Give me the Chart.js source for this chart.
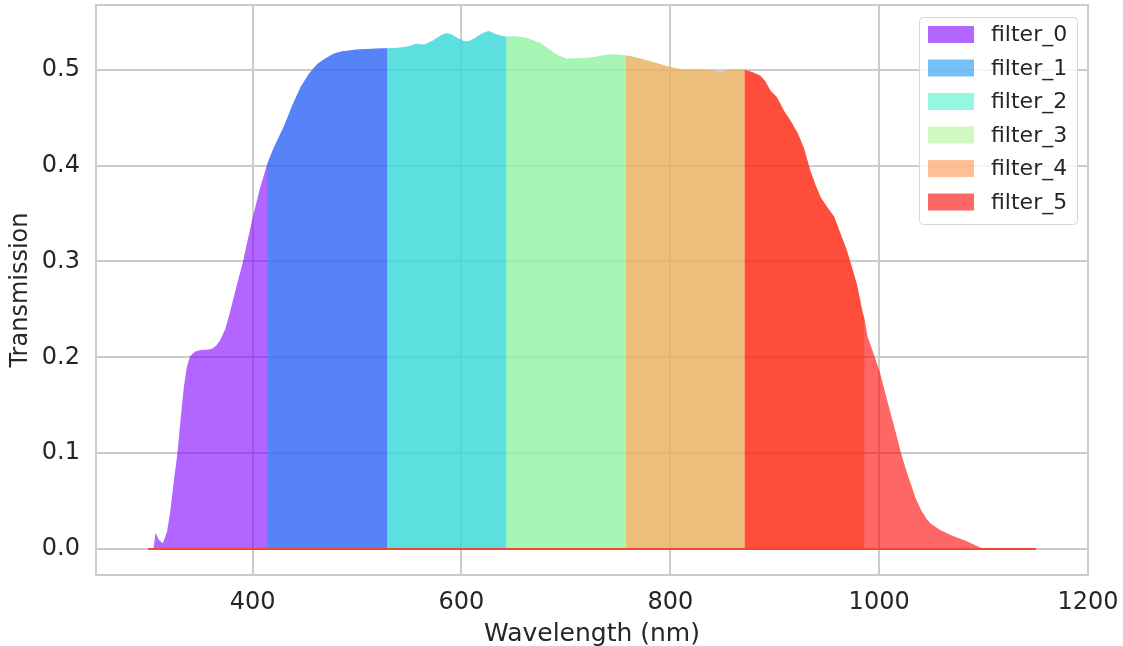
<!DOCTYPE html>
<html>
<head>
<meta charset="utf-8">
<script src="https://cdn.jsdelivr.net/npm/chart.js@4.4.1/dist/chart.umd.min.js"></script>
<style>
  body { margin: 0; background: #fff; }
  #wrap { width: 1123px; height: 646px; }
</style>
</head>
<body>
<div id="wrap"><canvas id="filterChart" width="1123" height="646"></canvas></div>
<script>
// transmission curve
const wavelength = [
    300, 305, 307, 310, 314, 318, 321, 325, 328, 331, 334, 337, 340, 345, 350, 356, 361, 365, 369, 374,
    378, 382, 385, 391, 396, 401, 407, 414, 420, 430, 438, 446, 454, 462, 470, 478, 485, 492, 500, 510,
    520, 529, 540, 550, 557, 564, 572, 580, 585, 590, 596, 602, 607, 613, 620, 626, 633, 640, 643, 650,
    657, 663, 670, 676, 684, 692, 701, 712, 723, 731, 739, 748, 757, 767, 778, 790, 800, 808, 816, 826,
    835, 843, 848, 853, 858, 864, 871, 877, 886, 891, 896, 902, 909, 915, 922, 928, 934, 939, 944, 950,
    957, 963, 969, 974, 979, 984, 986, 989, 995, 1001, 1006, 1011, 1016, 1021, 1026, 1030, 1035, 1040, 1045, 1049,
    1058, 1068, 1077, 1084, 1092, 1100, 1150
];
const transmission = [
    0, 0, 0.017, 0.010, 0.006, 0.018, 0.038, 0.075, 0.100, 0.135, 0.168, 0.190, 0.201, 0.206, 0.2075, 0.208, 0.209, 0.212, 0.218, 0.230,
    0.246, 0.263, 0.276, 0.301, 0.326, 0.350, 0.376, 0.402, 0.418, 0.441, 0.463, 0.482, 0.496, 0.506, 0.512, 0.517, 0.519, 0.520, 0.521, 0.5215,
    0.522, 0.5225, 0.523, 0.5245, 0.527, 0.526, 0.530, 0.5357, 0.538, 0.537, 0.533, 0.530, 0.5296, 0.533, 0.538, 0.5405, 0.537, 0.535, 0.5345, 0.535,
    0.534, 0.533, 0.530, 0.5277, 0.521, 0.515, 0.5115, 0.512, 0.5125, 0.514, 0.5156, 0.5158, 0.515, 0.513, 0.5097, 0.506, 0.5027, 0.501, 0.5003, 0.500,
    0.500, 0.499, 0.4982, 0.4995, 0.5003, 0.500, 0.500, 0.498, 0.494, 0.488, 0.478, 0.4715, 0.457, 0.447, 0.434, 0.418, 0.395, 0.380, 0.367, 0.357,
    0.3465, 0.329, 0.312, 0.294, 0.275, 0.248, 0.240, 0.2215, 0.203, 0.1833, 0.162, 0.1417, 0.121, 0.100, 0.082, 0.0688, 0.053, 0.041, 0.032, 0.027,
    0.020, 0.015, 0.011, 0.008, 0.004, 0, 0
];

// filter i covers filterEdges[i] .. filterEdges[i + 2]
const filterEdges = [300, 414, 529, 643, 757, 871, 986, 1100];
const filterNames = ['filter_0', 'filter_1', 'filter_2', 'filter_3', 'filter_4', 'filter_5'];
const filterColors = [
    'rgba(128, 0, 255, 0.6)',
    'rgba(26, 150, 243, 0.6)',
    'rgba(77, 243, 206, 0.6)',
    'rgba(179, 243, 150, 0.6)',
    'rgba(255, 150, 79, 0.6)',
    'rgba(255, 0, 0, 0.6)'
];

const xTicks = [400, 600, 800, 1000, 1200];
const yTicks = [0, 0.1, 0.2, 0.3, 0.4, 0.5];

const FONT = "'DejaVu Sans', sans-serif";
const TEXT_COLOR = '#262626';
const GRID_COLOR = '#cccccc';

function filterPoints(i) {
    const lo = filterEdges[i];
    const hi = filterEdges[i + 2];
    const points = [{ x: lo, y: 0 }];
    wavelength.forEach((wl, j) => {
        if (wl >= lo && wl <= hi) {
            points.push({ x: wl, y: transmission[j] });
        }
    });
    points.push({ x: hi, y: 0 });
    return points;
}

const datasets = filterNames.map((name, i) => ({
    label: name,
    data: filterPoints(i),
    backgroundColor: filterColors[i],
    borderWidth: 0,
    pointRadius: 0,
    fill: 'origin',
    tension: 0,
    order: filterNames.length - i   // later filters drawn on top
}));

// zero line under the whole range
datasets.push({
    label: 'baseline',
    data: [{ x: wavelength[0], y: 0 }, { x: wavelength[wavelength.length - 1], y: 0 }],
    borderColor: 'rgb(238, 72, 46)',
    borderWidth: 2,
    pointRadius: 0,
    fill: false,
    order: -1
});

const framePlugin = {
    id: 'frameAndLegend',
    afterDraw(chart) {
        const ctx = chart.ctx;
        const area = chart.chartArea;

        ctx.save();
        ctx.strokeStyle = GRID_COLOR;
        ctx.lineWidth = 2;
        ctx.strokeRect(area.left, area.top, area.right - area.left, area.bottom - area.top);

        // legend box
        const boxW = 158;
        const boxH = 207;
        const boxX = area.right - 11 - boxW;
        const boxY = area.top + 12;
        ctx.beginPath();
        ctx.roundRect(boxX + 0.5, boxY + 0.5, boxW, boxH, 4);
        ctx.fillStyle = 'rgba(255, 255, 255, 0.8)';
        ctx.fill();
        ctx.strokeStyle = '#d6d6d6';
        ctx.lineWidth = 1;
        ctx.stroke();

        ctx.font = '22px ' + FONT;
        ctx.textBaseline = 'middle';
        ctx.textAlign = 'left';
        filterNames.forEach((name, i) => {
            const cy = boxY + 17.5 + i * 33.5;
            ctx.fillStyle = filterColors[i];
            ctx.fillRect(boxX + 9, cy - 8.5, 46, 17);
            ctx.fillStyle = TEXT_COLOR;
            ctx.fillText(name, boxX + 72, cy + 1);
        });
        ctx.restore();
    }
};

const ctx = document.getElementById('filterChart').getContext('2d');
window.myChart = new Chart(ctx, {
    type: 'line',
    data: { datasets: datasets },
    options: {
        responsive: false,
        animation: false,
        devicePixelRatio: 1,
        layout: { padding: { top: 5, right: 35, left: 0, bottom: 0 } },
        plugins: {
            legend: { display: false },
            tooltip: { enabled: false }
        },
        scales: {
            x: {
                type: 'linear',
                min: 250,
                max: 1200,
                afterBuildTicks: (scale) => { scale.ticks = xTicks.map(v => ({ value: v })); },
                afterFit: (scale) => {
                    scale.height = 71;
                    scale.paddingLeft = 0;
                    scale.paddingRight = 0;
                },
                ticks: {
                    color: TEXT_COLOR,
                    font: { family: FONT, size: 24 },
                    padding: 13,
                    maxRotation: 0,
                    callback: (v) => String(v)
                },
                grid: { color: GRID_COLOR, lineWidth: 2, drawTicks: false },
                border: { display: false },
                title: {
                    display: true,
                    text: 'Wavelength (nm)',
                    color: TEXT_COLOR,
                    font: { family: FONT, size: 25 },
                    padding: { top: 0, bottom: -3 }
                }
            },
            y: {
                min: -0.0271,
                max: 0.5675,
                afterBuildTicks: (scale) => { scale.ticks = yTicks.map(v => ({ value: v })); },
                afterFit: (scale) => {
                    scale.width = 96;
                    scale.paddingTop = 0;
                    scale.paddingBottom = 0;
                },
                ticks: {
                    color: TEXT_COLOR,
                    font: { family: FONT, size: 24 },
                    padding: 16,
                    callback: (v) => v.toFixed(1)
                },
                grid: { color: GRID_COLOR, lineWidth: 2, drawTicks: false },
                border: { display: false },
                title: {
                    display: true,
                    text: 'Transmission',
                    color: TEXT_COLOR,
                    font: { family: FONT, size: 24 },
                    padding: { top: 6, bottom: 0 }
                }
            }
        }
    },
    plugins: [framePlugin]
});
</script>
</body>
</html>
